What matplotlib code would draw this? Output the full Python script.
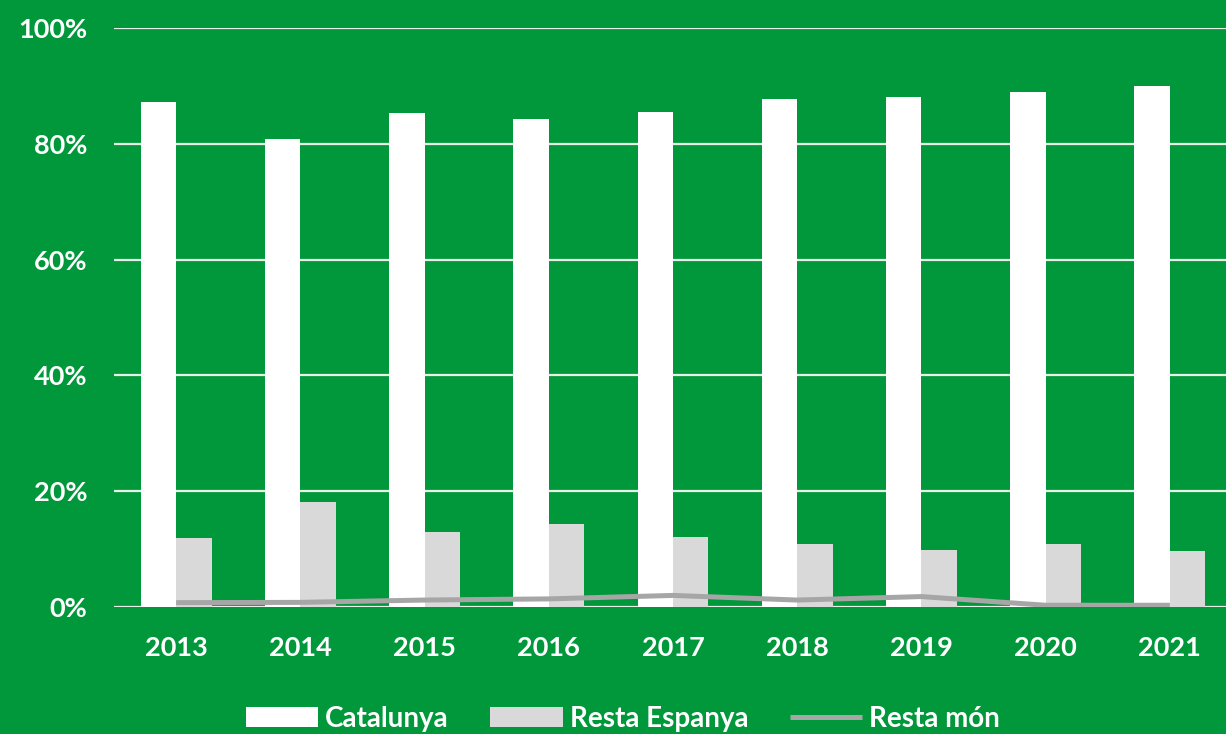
import matplotlib
matplotlib.use("Agg")
import matplotlib.pyplot as plt
import numpy as np

# data (shares, %)
years = ["2013", "2014", "2015", "2016", "2017", "2018", "2019", "2020", "2021"]
catalunya = [87.2, 80.8, 85.4, 84.3, 85.5, 87.7, 88.0, 89.0, 89.9]
resta_espanya = [11.9, 18.2, 13.0, 14.3, 12.1, 10.8, 9.8, 10.8, 9.7]
resta_mon = [0.75, 0.8, 1.2, 1.4, 2.0, 1.2, 1.8, 0.3, 0.3]
yticks = [0, 20, 40, 60, 80, 100]

green = "#00983a"
grey_bar = "#d9d9d9"
grey_line = "#a6a6a6"

plt.rcParams['font.family'] = ['Lato', 'DejaVu Sans']
plt.rcParams['font.weight'] = 'bold'

fig = plt.figure(figsize=(12.26, 7.34), dpi=100)
fig.patch.set_facecolor(green)
ax = fig.add_axes([114/1226, 127/734, (1232-114)/1226, (607-28)/734])
ax.set_facecolor(green)

x = np.arange(len(years))
w = 0.285
b1 = ax.bar(x - w/2, catalunya, w, color="white", label="Catalunya", zorder=2)
b2 = ax.bar(x + w/2, resta_espanya, w, color=grey_bar, label="Resta Espanya", zorder=2)
l1, = ax.plot(x, resta_mon, color=grey_line, lw=3.6, label="Resta món", zorder=3,
              solid_capstyle='butt')

ax.set_xlim(-0.5, len(years) - 0.5)
ax.set_ylim(0, 100)
ax.set_yticks(yticks)
ax.set_yticklabels([f"{v}%" for v in yticks])
ax.set_xticks(x)
ax.set_xticklabels(years)
ax.yaxis.grid(True, color="#e8f0e8", lw=1.6, zorder=1)
ax.set_axisbelow(True)
for s in ax.spines.values():
    s.set_visible(False)
ax.tick_params(axis='y', length=0, pad=19, labelsize=19.5, labelcolor="white")
ax.tick_params(axis='x', length=0, pad=21, labelsize=19.5, labelcolor="white")

fig.legend([b1, b2, l1], ["Catalunya", "Resta Espanya", "Resta món"],
           loc='center', bbox_to_anchor=(0.508, 0.021), ncol=3, frameon=False,
           fontsize=20, handlelength=2.6, handleheight=0.75, columnspacing=1.5,
           handletextpad=0.25, labelcolor="white")

fig.savefig("out.png", dpi=100, facecolor=green)
